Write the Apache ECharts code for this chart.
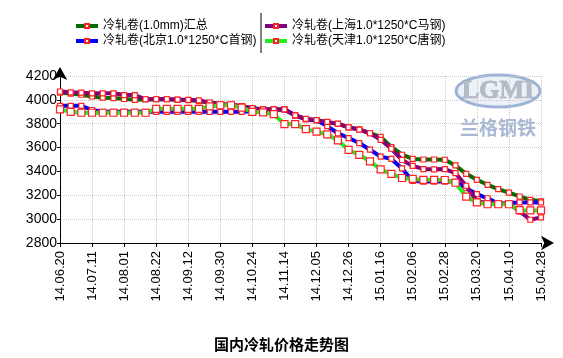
<!DOCTYPE html>
<html>
<head>
<meta charset="utf-8">
<script src="https://cdn.jsdelivr.net/npm/echarts@6/dist/echarts.min.js"></script>
<style>html,body{margin:0;padding:0;background:#fff}#c{width:563px;height:358px}</style>
</head>
<body>
<div id="c"></div>
<script>
var categories = [
  '14.06.20','14.06.27','14.07.04','14.07.11','14.07.18','14.07.25','14.08.01','14.08.08','14.08.15','14.08.22',
  '14.08.29','14.09.05','14.09.12','14.09.19','14.09.26','14.09.30','14.10.10','14.10.17','14.10.24','14.10.31',
  '14.11.07','14.11.14','14.11.21','14.11.28','14.12.05','14.12.12','14.12.19','14.12.26','15.01.02','15.01.09',
  '15.01.16','15.01.23','15.01.30','15.02.06','15.02.13','15.02.17','15.02.28','15.03.06','15.03.13','15.03.20',
  '15.03.27','15.04.03','15.04.10','15.04.17','15.04.24','15.04.28'
];
var seriesNames = ['冷轧卷(1.0mm)汇总','冷轧卷(北京1.0*1250*C首钢)','冷轧卷(上海1.0*1250*C马钢)','冷轧卷(天津1.0*1250*C唐钢)'];
var totalValues = [4060,4053,4043,4028,4018,4015,4007,4000,4004,4005,4005,4000,3998,3990,3975,3962,3960,3945,3930,3920,
  3920,3920,3868,3838,3830,3812,3798,3770,3752,3720,3690,3605,3540,3505,3500,3500,3498,3450,3380,3330,
  3288,3252,3222,3190,3162,3150];
var beijingValues = [3950,3950,3950,3915,3900,3900,3900,3900,3900,3900,3900,3900,3900,3900,3900,3900,3900,3900,3905,3920,
  3920,3920,3870,3838,3830,3780,3720,3680,3638,3582,3524,3505,3425,3320,3315,3315,3315,3315,3260,3210,
  3175,3130,3135,3140,3140,3140];
var shanghaiValues = [4070,4063,4060,4055,4055,4055,4040,4040,4005,4005,4005,4002,4000,3995,3978,3965,3960,3948,3930,3920,
  3920,3920,3870,3840,3830,3815,3800,3770,3750,3720,3665,3590,3496,3446,3420,3418,3420,3385,3280,3150,
  3135,3130,3130,3065,2995,3015];
var tianjinValues = [3920,3900,3892,3892,3892,3892,3892,3892,3892,3925,3925,3925,3925,3925,3945,3955,3955,3935,3900,3895,
  3880,3797,3797,3755,3733,3711,3660,3580,3538,3485,3418,3380,3345,3337,3330,3330,3328,3305,3188,3140,
  3125,3125,3125,3075,3073,3073];
var yTicks = [2800,3000,3200,3400,3600,3800,4000,4200];
var titleText = '国内冷轧价格走势图';

var FONT = '"Liberation Sans", Arial, "Noto Sans CJK SC", sans-serif';
var chart = echarts.init(document.getElementById('c'));

function mkSeries(name, data, color, size, z) {
  return {
    name: name, type: 'line', data: data, color: color, z: z,
    symbol: 'rect', symbolSize: size, showAllSymbol: true,
    lineStyle: { color: color, width: 4 },
    itemStyle: { color: '#ffffff', borderColor: '#ff2020', borderWidth: 1.2 },
    emphasis: { disabled: true }, animation: false
  };
}

function mkLegend(names, left) {
  return {
    data: names, orient: 'vertical', left: left, top: 15,
    itemWidth: 22, itemHeight: 5, itemGap: 3,
    lineStyle: { width: 4 },
    textStyle: { fontFamily: FONT, fontSize: 12, color: '#000', lineHeight: 12 }
  };
}

chart.setOption({
  animation: false,
  title: {
    text: titleText, left: 'center', top: 332,
    textStyle: { fontFamily: '"Noto Sans CJK SC", sans-serif', fontSize: 15, fontWeight: 'bold', color: '#000' }
  },
  legend: [ mkLegend([seriesNames[0], seriesNames[1]], 69), mkLegend([seriesNames[2], seriesNames[3]], 258) ],
  graphic: [
    { type: 'line', shape: { x1: 261, y1: 13, x2: 261, y2: 53 }, style: { stroke: '#000', lineWidth: 1 } },
    { type: 'ellipse', shape: { cx: 498, cy: 91, rx: 42, ry: 16 }, style: { fill: 'rgba(200,215,235,0.35)', stroke: '#9db3d6', lineWidth: 3 }, z: 0 },
    { type: 'text', x: 498, y: 91, style: { text: 'LGMI', fill: '#b4bcc8', stroke: '#8f9aa8', lineWidth: 0.6, font: 'bold 26px "Liberation Serif", serif', align: 'center', verticalAlign: 'middle' }, z: 0 },
    { type: 'text', x: 498, y: 128, style: { text: '兰格钢铁', fill: '#a9b9d4', font: 'bold 19px "Noto Sans CJK SC", sans-serif', align: 'center', verticalAlign: 'middle' }, z: 0 }
  ],
  grid: { left: 60, right: 22, top: 76, bottom: 115, containLabel: false },
  xAxis: {
    type: 'category', data: categories, boundaryGap: false,
    axisLine: { show: true, lineStyle: { color: '#000', width: 1 }, symbol: ['none', 'arrow'], symbolSize: [11, 13], symbolOffset: [0, 13] },
    axisTick: { show: true, interval: 2, length: 4, lineStyle: { color: '#000' } },
    axisLabel: { interval: 2, rotate: 90, margin: 8, color: '#000', fontSize: 13, fontFamily: FONT },
    splitLine: { show: true, interval: 2, lineStyle: { color: '#c8c8c8', type: 'dotted', width: 1 } }
  },
  yAxis: {
    type: 'value', min: yTicks[0], max: yTicks[yTicks.length - 1], interval: 200,
    axisLine: { show: true, lineStyle: { color: '#000', width: 1 }, symbol: ['none', 'arrow'], symbolSize: [11, 13], symbolOffset: [0, 9] },
    axisTick: { show: true, length: 3, lineStyle: { color: '#000' } },
    axisLabel: { color: '#000', fontSize: 14, fontFamily: FONT, margin: 3, formatter: function (v) { return String(v); } },
    splitLine: { show: true, lineStyle: { color: '#c8c8c8', type: 'dotted', width: 1 } }
  },
  series: [
    mkSeries(seriesNames[0], totalValues, '#006e00', 5, 2),
    mkSeries(seriesNames[1], beijingValues, '#0000ff', 5, 3),
    mkSeries(seriesNames[2], shanghaiValues, '#800080', 5, 4),
    mkSeries(seriesNames[3], tianjinValues, '#22ee22', 7, 5)
  ]
});
</script>
</body>
</html>
